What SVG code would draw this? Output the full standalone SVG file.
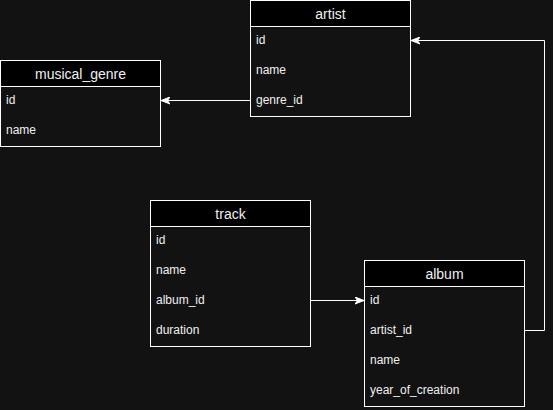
<svg xmlns="http://www.w3.org/2000/svg" width="553" height="410" viewBox="0 0 553 410">
<style>
.bg{fill:#121212}
.box{fill:#121212;stroke:#ffffff;stroke-width:1}
.hdr{fill:#000000;stroke:#ffffff;stroke-width:1}
.title{font-family:"Liberation Sans",Arial,sans-serif;font-size:14px;fill:#f0f0f0;text-anchor:middle}
.row{font-family:"Liberation Sans",Arial,sans-serif;font-size:12px;fill:#f0f0f0}
.edge{fill:none;stroke:#ffffff;stroke-width:1}
</style>
<defs>
<marker id="arr" markerWidth="10" markerHeight="8" refX="9" refY="4" orient="auto" markerUnits="userSpaceOnUse">
<path d="M0,0.5 L9,4 L0,7.5 L2.5,4 Z" fill="#ffffff" stroke="#ffffff" stroke-width="1"/>
</marker>
</defs>
<rect class="bg" x="0" y="0" width="553" height="410"/>
<g id="connectors">
<path class="edge" d="M250.5,100.5 L161,100.5" marker-end="url(#arr)"/>
<path class="edge" d="M524.5,330.5 L544.5,330.5 L544.5,40.5 L411,40.5" marker-end="url(#arr)"/>
<path class="edge" d="M310.5,300.5 L364,300.5" marker-end="url(#arr)"/>
</g>
<g id="artist">
<rect class="box" x="250.5" y="0.5" width="160" height="116"/>
<rect class="hdr" x="250.5" y="0.5" width="160" height="26"/>
<text class="title" x="330.5" y="19">artist</text>
<text class="row" x="256" y="44">id</text>
<text class="row" x="256" y="74">name</text>
<text class="row" x="256" y="104">genre_id</text>
</g>
<g id="musical_genre">
<rect class="box" x="0.5" y="60.5" width="160" height="86"/>
<rect class="hdr" x="0.5" y="60.5" width="160" height="26"/>
<text class="title" x="80.5" y="79">musical_genre</text>
<text class="row" x="6" y="104">id</text>
<text class="row" x="6" y="134">name</text>
</g>
<g id="track">
<rect class="box" x="150.5" y="200.5" width="160" height="146"/>
<rect class="hdr" x="150.5" y="200.5" width="160" height="26"/>
<text class="title" x="230.5" y="219">track</text>
<text class="row" x="156" y="244">id</text>
<text class="row" x="156" y="274">name</text>
<text class="row" x="156" y="304">album_id</text>
<text class="row" x="156" y="334">duration</text>
</g>
<g id="album">
<rect class="box" x="364.5" y="260.5" width="160" height="146"/>
<rect class="hdr" x="364.5" y="260.5" width="160" height="26"/>
<text class="title" x="444.5" y="279">album</text>
<text class="row" x="370" y="304">id</text>
<text class="row" x="370" y="334">artist_id</text>
<text class="row" x="370" y="364">name</text>
<text class="row" x="370" y="394">year_of_creation</text>
</g>
</svg>
